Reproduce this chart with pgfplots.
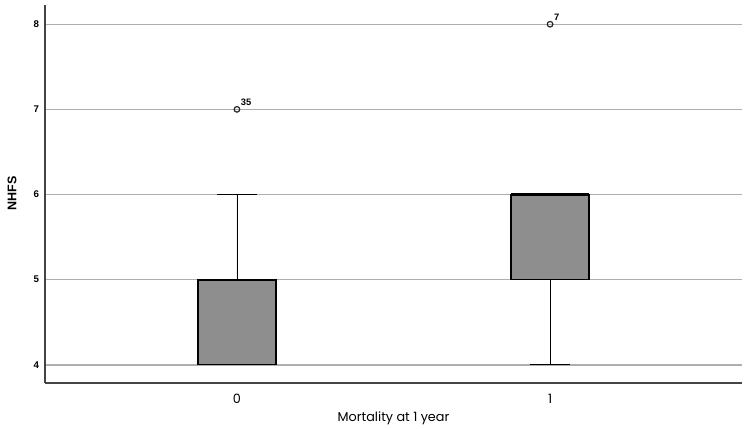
\documentclass[border=0pt]{standalone}
\usepackage{fontspec}
\setmainfont{Poppins}
\newfontfamily\arialfont{Liberation Sans}
\usepackage{pgfplots}
\pgfplotsset{compat=1.18}
\usepgfplotslibrary{statistics}

\definecolor{boxfill}{HTML}{8E8E8E}
\definecolor{gridgray}{HTML}{AEAEAE}
\definecolor{axisgray}{HTML}{444444}

\begin{document}
\begin{tikzpicture}
\begin{axis}[
  scale only axis,
  width=522.75pt, height=283.5pt,
  xmin=-0.613, xmax=1.613,
  ymin=3.79, ymax=8.23,
  axis x line*=bottom, axis y line*=left,
  axis line style={axisgray, line width=1.3pt},
  xtick={0,1}, xticklabels={0,1},
  ytick={4,5,6,7,8},
  major tick length=0pt,
  ymajorgrids,
  grid style={gridgray, line width=1.1pt},
  xticklabel style={font=\fontsize{9.6}{10}\selectfont, yshift=-5pt},
  yticklabel style={font=\arialfont\bfseries\fontsize{7.3}{8}\selectfont, xshift=-1pt},
  /pgf/number format/assume math mode=true,
  xlabel={Mortality at 1 year},
  xlabel style={font=\fontsize{9.6}{10}\selectfont, yshift=1pt},
  ylabel={NHFS},
  ylabel style={font=\arialfont\bfseries\fontsize{9.4}{10}\selectfont, yshift=6pt},
  clip=false,
  boxplot/draw direction=y,
  boxplot/box extend=0.249,
  boxplot/whisker extend=0.128,
  boxplot/every box/.style={line width=0.9pt},
  boxplot/every whisker/.style={line width=0.65pt},
  boxplot/draw/median/.code={%
    \draw[black, line width=1.6pt]
      (boxplot box cs:\pgfplotsboxplotvalue{median},0) --
      (boxplot box cs:\pgfplotsboxplotvalue{median},1);},
  every boxplot/.style={
    draw=black, fill=boxfill, solid,
    mark=o, mark size=2.1pt,
    every mark/.append style={draw=black!85, fill=white, line width=0.9pt}},
]
% Mortality = 0
\addplot[boxplot prepared={draw position=0,
    lower whisker=4, lower quartile=4, median=5,
    upper quartile=5, upper whisker=6}]
  coordinates {(0,7)};
% Mortality = 1
\addplot[boxplot prepared={draw position=1,
    lower whisker=4, lower quartile=5, median=6,
    upper quartile=6, upper whisker=6}]
  coordinates {(0,8)};
% case numbers of the outliers
\node[anchor=south west, inner sep=0pt, font=\arialfont\bfseries\fontsize{7}{8}\selectfont]
  at (axis cs:0.012,7.04) {35};
\node[anchor=south west, inner sep=0pt, font=\arialfont\bfseries\fontsize{7}{8}\selectfont]
  at (axis cs:1.012,8.04) {7};
\end{axis}
\path (current axis.south west) ++(-33.75pt,-32.25pt) coordinate (bbl);
\path (current axis.north east) ++(6pt,3.5pt) coordinate (btr);
\useasboundingbox (bbl) rectangle (btr);
\end{tikzpicture}
\end{document}
